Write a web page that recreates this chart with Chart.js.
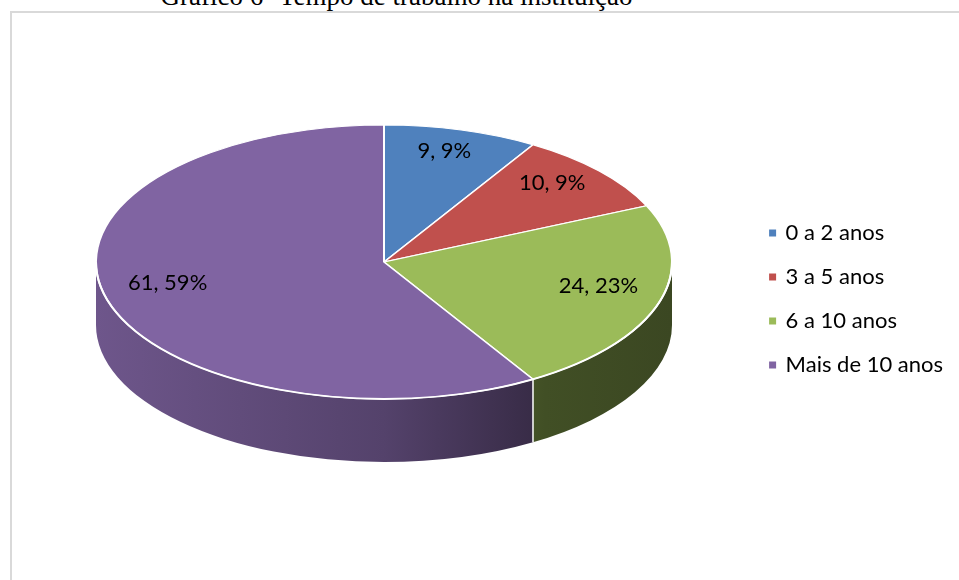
<!DOCTYPE html>
<html lang="pt">
<head>
<meta charset="utf-8">
<title>Tempo de trabalho na instituição</title>
<script src="https://cdn.jsdelivr.net/npm/chart.js@4.4.1/dist/chart.umd.min.js"></script>
<style>
    body { margin: 0; background: #fff; width: 959px; height: 580px; overflow: hidden; position: relative; }
    #frame { position: absolute; left: 10px; top: 11px; width: 960px; height: 600px; border: 2px solid #d9d9d9; box-sizing: border-box; }
    #title { position: absolute; left: 0; top: -17px; width: 793px; text-align: center; white-space: nowrap;
             font: 27px "Liberation Serif", "Times New Roman", serif; line-height: 27px; color: #000; }
    #pieChart { position: absolute; left: 0; top: 0; }
</style>
</head>
<body>
<div id="frame"></div>
<div id="title">Gráfico 6 -Tempo de trabalho na instituição</div>
<canvas id="pieChart" width="959" height="580"></canvas>
<script>
// Tempo de trabalho (anos) - respondentes por faixa
const faixas = ['0 a 2 anos', '3 a 5 anos', '6 a 10 anos', 'Mais de 10 anos'];
const respondentes = [9, 10, 24, 61];
const percentuais = [9, 9, 23, 59];

const cores = ['#4f81bd', '#c0504d', '#9bbb59', '#8064a2'];

// tilted pie: centre of the top face, vertical squash and wall height
const tilt = { cx: 384, cy: 262, ratio: 137 / 288, depth: 63 };
// light falloff across the side wall, left to right
const sideLight = [[0, 0.86], [0.5, 0.66], [0.78, 0.42], [1, 0.38]];
const labelFont = 'Lato';

function shade(hex, f) {
    const n = parseInt(hex.slice(1), 16);
    const r = Math.round(((n >> 16) & 255) * f);
    const g = Math.round(((n >> 8) & 255) * f);
    const b = Math.round((n & 255) * f);
    return `rgb(${r}, ${g}, ${b})`;
}

const pie3d = {
    id: 'pie3d',
    beforeDatasetsDraw(chart) {
        const ctx = chart.ctx;
        const arcs = chart.getDatasetMeta(0).data;
        const rx = arcs[0].outerRadius;
        const ry = rx * tilt.ratio;
        const { cx, cy, depth } = tilt;

        // side walls (only the front half shows)
        arcs.forEach((arc, i) => {
            const a = Math.max(arc.startAngle, 0);
            const b = Math.min(arc.endAngle, Math.PI);
            if (a >= b) return;
            const grad = ctx.createLinearGradient(cx - rx, 0, cx + rx, 0);
            sideLight.forEach(([t, f]) => grad.addColorStop(t, shade(cores[i], f)));
            ctx.beginPath();
            ctx.ellipse(cx, cy, rx, ry, 0, a, b);
            ctx.ellipse(cx, cy + depth, rx, ry, 0, b, a, true);
            ctx.closePath();
            ctx.fillStyle = grad;
            ctx.fill();
        });

        // seams between the walls
        ctx.save();
        ctx.strokeStyle = '#fff';
        ctx.lineWidth = 1.5;
        arcs.forEach((arc) => {
            const t = arc.startAngle;
            if (t <= 0 || t >= Math.PI) return;
            const x = cx + rx * Math.cos(t);
            const y = cy + ry * Math.sin(t);
            ctx.beginPath();
            ctx.moveTo(x, y);
            ctx.lineTo(x, y + depth);
            ctx.stroke();
        });
        ctx.restore();

        // squash the pie itself into the top face
        ctx.save();
        ctx.translate(cx, cy);
        ctx.scale(1, tilt.ratio);
        ctx.translate(-arcs[0].x, -arcs[0].y);
    },
    afterDatasetsDraw(chart) {
        const ctx = chart.ctx;
        ctx.restore();

        const arcs = chart.getDatasetMeta(0).data;
        const rx = arcs[0].outerRadius;
        const ry = rx * tilt.ratio;
        const { cx, cy } = tilt;

        // white rim along the front edge
        ctx.save();
        ctx.strokeStyle = '#fff';
        ctx.lineWidth = 2;
        ctx.beginPath();
        ctx.ellipse(cx, cy, rx, ry, 0, 0, Math.PI);
        ctx.stroke();

        // "valor, pct%" labels
        ctx.fillStyle = '#000';
        ctx.font = `22px ${labelFont}`;
        ctx.textAlign = 'center';
        ctx.textBaseline = 'middle';
        arcs.forEach((arc, i) => {
            const mid = (arc.startAngle + arc.endAngle) / 2;
            const x = cx + rx * 0.78 * Math.cos(mid);
            const y = cy + ry * 0.78 * Math.sin(mid) - 8;
            ctx.fillText(`${respondentes[i]}, ${percentuais[i]}%`, x, y);
        });
        ctx.restore();
    }
};

new Chart(document.getElementById('pieChart'), {
    type: 'pie',
    data: {
        labels: faixas,
        datasets: [{
            data: respondentes,
            backgroundColor: cores,
            borderColor: '#fff',
            borderWidth: 2,
            radius: 288
        }]
    },
    options: {
        responsive: false,
        animation: false,
        events: [],
        layout: {
            padding: { top: 18, right: 6, bottom: 0, left: 0 }
        },
        plugins: {
            legend: {
                position: 'right',
                align: 'center',
                labels: {
                    usePointStyle: true,
                    pointStyle: 'rect',
                    boxWidth: 4,
                    boxHeight: 9,
                    padding: 22,
                    color: '#000',
                    font: { family: labelFont, size: 22 }
                }
            },
            tooltip: { enabled: false }
        }
    },
    plugins: [pie3d]
});
</script>
</body>
</html>
